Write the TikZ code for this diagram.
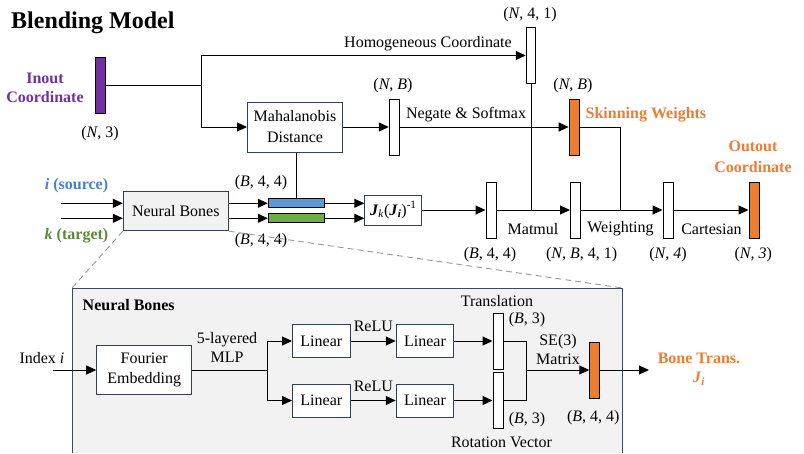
\documentclass[tikz,border=0pt]{standalone}
\usepackage{fontspec}
\setmainfont{Liberation Serif}[BoldFont={Liberation Serif Bold}, ItalicFont={Liberation Serif Italic}, BoldItalicFont={Liberation Serif Bold Italic}]
\usetikzlibrary{arrows.meta}
\definecolor{navyC}{HTML}{2E4163}
\definecolor{frameC}{HTML}{3E4A5C}
\definecolor{purpleC}{HTML}{7030A0}
\definecolor{orangeC}{HTML}{ED7D31}
\definecolor{blueT}{HTML}{4A7FCF}
\definecolor{greenT}{HTML}{5A8A3A}
\definecolor{blueB}{HTML}{5B9BD5}
\definecolor{greenB}{HTML}{70AD47}
\definecolor{grayF}{HTML}{F2F2F2}
\begin{document}
\begin{tikzpicture}[x=1pt,y=-1pt,
  every node/.style={font=\fontsize{16}{20}\selectfont, inner sep=0pt},
  box/.style={draw=navyC, fill=white, line width=1pt, align=center},
  vbar/.style={draw=black, fill=white, line width=1pt, minimum width=10pt, minimum height=56pt},
  obar/.style={vbar, fill=orangeC},
  hbar/.style={draw=black, line width=1pt, minimum width=56pt, minimum height=9pt},
  arr/.style={line width=1pt, -{Triangle[length=10pt,width=9pt]}},
  ln/.style={line width=1pt},
  txt/.style={align=center},
  boldlbl/.style={align=center, font=\fontsize{16}{20}\selectfont\bfseries}
]
\useasboundingbox (0,0) rectangle (804,453);

% ---------- inner panel ----------
\node[fill=grayF, minimum width=550.5pt, minimum height=165pt, anchor=north west] (inner) at (72,288) {};
\draw[frameC, line width=1pt] (inner.south west) -- (inner.north west) -- (inner.north east) -- (inner.south east);

% ---------- title ----------
\node[anchor=west, font=\fontsize{24}{28}\selectfont\bfseries] (title) at (11,23) {Blending Model};

% ---------- top part ----------
\node[boldlbl, text=purpleC, font=\fontsize{16}{19}\selectfont\bfseries] (inlbl) at (45,88) {Inout\\Coordinate};
\node[vbar, fill=purpleC] (inb) at (100.7,85.3) {};
\node (n3a) at (100,134) {(\textit{N}, 3)};

\node[vbar, minimum width=9.5pt] (hc) at (531,55.5) {};
\node (n41) at (530,15) {(\textit{N}, 4, 1)};
\node (homo) at (428,43.5) {Homogeneous Coordinate};

\node[box, minimum width=95pt, minimum height=50pt, font=\fontsize{16}{21}\selectfont] (maha) at (295,127) {Mahalanobis\\Distance};
\node[vbar] (nb) at (394.3,127) {};
\node (nbl) at (393,86) {(\textit{N}, \textit{B})};
\node (neg) at (466,115) {Negate \& Softmax};
\node[obar] (sw) at (574.2,127) {};
\node (swl) at (573,86) {(\textit{N}, \textit{B})};
\node[boldlbl, anchor=west, text=orangeC] (swt) at (585.5,115) {Skinning Weights};
\node[boldlbl, text=orangeC, font=\fontsize{16}{21}\selectfont\bfseries] (outl) at (753,156.5) {Outout\\Coordinate};

% ---------- neural bones row ----------
\node[box, fill=grayF, minimum width=105pt, minimum height=39pt] (nbx) at (175.8,211.2) {Neural Bones};
\node[boldlbl, text=blueT] (srcl) at (76.5,186) {\textit{i} (source)};
\node[boldlbl, text=greenT] (tgtl) at (76.5,236) {\textit{k} (target)};
\coordinate (in1) at (60.7,203.3);
\coordinate (in2) at (60.7,218.3);
\node[hbar, fill=blueB] (bb) at (296.3,203.3) {};
\node[hbar, fill=greenB] (gb) at (296.3,218.3) {};
\node (b44a) at (261,183) {(\textit{B}, 4, 4)};
\node (b44b) at (261,241) {(\textit{B}, 4, 4)};
\node[box, minimum width=57pt, minimum height=30pt] (jk) at (393.3,210) {\textbf{\textit{J}}\textsubscript{\textit{k}}(\textbf{\textit{J}}\textsubscript{\textbf{\textit{i}}})\textsuperscript{-1}};

\node[vbar] (b44) at (491,210) {};
\node[vbar] (nb41) at (575.5,210) {};
\node[vbar] (n4) at (668,210) {};
\node[obar] (outb) at (754,210) {};
\node (b44l) at (490,255) {(\textit{B}, 4, 4)};
\node (nb41l) at (581.7,255) {(\textit{N, B}, 4, 1)};
\node (n4l) at (668,255) {(\textit{N, 4})};
\node (n3l) at (753.3,255) {(\textit{N, 3})};
\node (matmul) at (533,229) {Matmul};
\node (weight) at (620.5,229) {Weighting};
\node (cart) at (711.5,229) {Cartesian};

\coordinate (j1) at (201,85.3);
\coordinate (wj) at (620.7,210);

% ---------- top connectors ----------
\draw[ln] (inb.east) -- (j1);
\draw[arr] (j1) |- (hc.west);
\draw[arr] (j1) |- (maha.west);
\draw[arr] (maha.east) -- (nb.west);
\draw[arr] (nb.east) -- (sw.west);
\draw[ln] (hc.south) -- (hc.south |- b44.east);
\draw[ln] (sw.east) -| (wj);
\draw[ln] (bb.north |- maha.south) -- (bb.north);

\draw[arr] (in1) -- (in1 -| nbx.west);
\draw[arr] (in2) -- (in2 -| nbx.west);
\draw[arr] (nbx.east |- bb.west) -- (bb.west);
\draw[arr] (nbx.east |- gb.west) -- (gb.west);
\draw[arr] (bb.east) -- (bb.east -| jk.west);
\draw[arr] (gb.east) -- (gb.east -| jk.west);
\draw[arr] (jk.east) -- (b44.west);
\draw[arr] (b44.east) -- (nb41.west);
\draw[arr] (nb41.east) -- (n4.west);
\draw[arr] (n4.east) -- (outb.west);

% ---------- dashed zoom lines ----------
\draw[gray!80, line width=0.9pt, dash pattern=on 6pt off 4pt] (nbx.south west) -- (inner.north west);
\draw[gray!80, line width=0.9pt, dash pattern=on 6pt off 4pt] (nbx.south east) -- (inner.north east);

% ---------- inner content ----------
\node[boldlbl, anchor=west] (nbt) at (82.5,305) {Neural Bones};
\node (idx) at (42,357.7) {Index \textit{i}};
\coordinate (idxs) at (53,370);
\node[box, minimum width=95pt, minimum height=48.5pt] (four) at (144.2,370) {Fourier\\Embedding};
\node[txt, font=\fontsize{16}{19}\selectfont] (mlp) at (227,347.5) {5-layered\\MLP};
\coordinate (br) at (267.3,370);
\node[box, minimum width=57.5pt, minimum height=33pt] (lin1) at (321.3,341) {Linear};
\node[box, minimum width=57.5pt, minimum height=33pt] (lin2) at (425,341) {Linear};
\node[box, minimum width=57.5pt, minimum height=33pt] (lin3) at (321.3,400.5) {Linear};
\node[box, minimum width=57.5pt, minimum height=33pt] (lin4) at (425,400.5) {Linear};
\node (relu1) at (373.3,326) {ReLU};
\node (relu2) at (373.3,386) {ReLU};
\node[vbar] (tb) at (498,341) {};
\node[vbar] (rb) at (498,400.5) {};
\node (trans) at (497,300.7) {Translation};
\node (b3a) at (527,320) {(\textit{B}, 3)};
\node (b3b) at (527,420) {(\textit{B}, 3)};
\node (rot) at (501.5,442.3) {Rotation Vector};
\node[txt, font=\fontsize{16}{18.5}\selectfont] (se3l) at (558,349.5) {SE(3)\\Matrix};
\node[obar, minimum width=9.5pt] (se3) at (594.5,370) {};
\node (b44c) at (593.3,417.3) {(\textit{B}, 4, 4)};
\node[boldlbl, text=orangeC, font=\fontsize{16}{19}\selectfont\bfseries] (bone) at (699,369.5) {Bone Trans.\\\textit{J}\textsubscript{\textit{i}}};
\coordinate (sj) at (526.7,370);
\coordinate (bt) at (649,370);

\draw[arr] (idxs) -- (four.west);
\draw[ln] (four.east) -- (br);
\draw[arr] (br) |- (lin1.west);
\draw[arr] (br) |- (lin3.west);
\draw[arr] (lin1.east) -- (lin2.west);
\draw[arr] (lin3.east) -- (lin4.west);
\draw[arr] (lin2.east) -- (tb.west);
\draw[arr] (lin4.east) -- (rb.west);
\draw[ln] (tb.east) -| (sj);
\draw[ln] (rb.east) -| (sj);
\draw[arr] (sj) -- (se3.west);
\draw[arr] (se3.east) -- (bt);
\end{tikzpicture}
\end{document}
